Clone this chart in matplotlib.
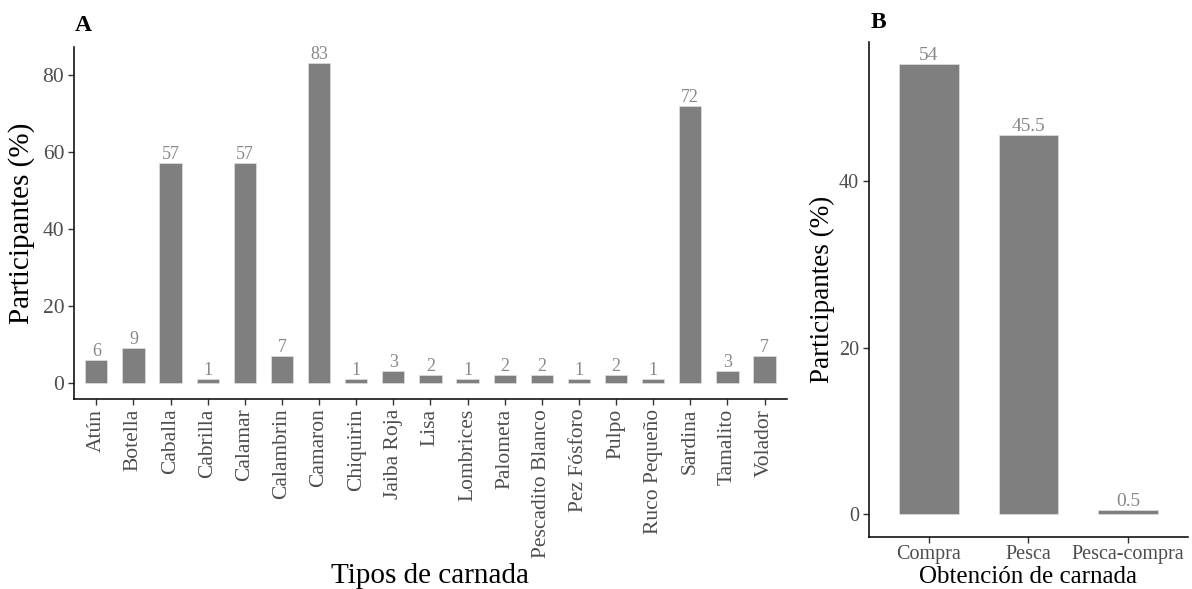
import matplotlib.pyplot as plt

plt.rcParams['font.family'] = ['Liberation Serif', 'DejaVu Serif']

# Panel A data
tipos = ['Atún', 'Botella', 'Caballa', 'Cabrilla', 'Calamar', 'Calambrin', 'Camaron',
         'Chiquirin', 'Jaiba Roja', 'Lisa', 'Lombrices', 'Palometa', 'Pescadito Blanco',
         'Pez Fósforo', 'Pulpo', 'Ruco Pequeño', 'Sardina', 'Tamalito', 'Volador']
tipos_pct = [6, 9, 57, 1, 57, 7, 83, 1, 3, 2, 1, 2, 2, 1, 2, 1, 72, 3, 7]

# Panel B data
obtencion = ['Compra', 'Pesca', 'Pesca-compra']
obtencion_pct = [54, 45.5, 0.5]

bar_col = '#7f7f7f'
lab_col = '#888888'
tick_col = '#4d4d4d'

fig = plt.figure(figsize=(11.92, 5.89), dpi=100)
axA = fig.add_axes([0.0621, 0.3226, 0.598, 0.5974])
axB = fig.add_axes([0.729, 0.0883, 0.2676, 0.8404])


def style(ax, size):
    for s in ['top', 'right']:
        ax.spines[s].set_visible(False)
    for s in ['left', 'bottom']:
        ax.spines[s].set_linewidth(1.1)
        ax.spines[s].set_color('black')
    ax.tick_params(axis='both', length=4, width=1, color='#333333',
                   labelcolor=tick_col, labelsize=size, pad=3)


# Panel A
xa = range(len(tipos))
axA.bar(xa, tipos_pct, width=0.6, color=bar_col, edgecolor='#e0e0e0', linewidth=0.5)
for x, v in zip(xa, tipos_pct):
    axA.text(x, v, str(v), ha='center', va='bottom', fontsize=13, color=lab_col)
axA.set_xlim(-0.6, len(tipos) - 0.4)
axA.set_ylim(-0.05 * 83, 83 * 1.05)
axA.set_yticks([0, 20, 40, 60, 80])
axA.set_xticks(list(xa))
axA.set_xticklabels(tipos, rotation=90, ha='center', va='top')
style(axA, 15.5)
axA.set_ylabel('Participantes (%)', fontsize=21, color='black', va='center')
axA.yaxis.set_label_coords(-0.073, 0.5)
axA.set_xlabel('Tipos de carnada', fontsize=21, color='black', va='baseline')
axA.xaxis.set_label_coords(0.5, -0.522)
fig.text(0.0625, 0.957, 'A', fontsize=17, fontweight='bold', va='center')

# Panel B
xb = range(len(obtencion))
axB.bar(xb, obtencion_pct, width=0.6, color=bar_col, edgecolor='#e0e0e0', linewidth=0.5)
for x, v in zip(xb, obtencion_pct):
    axB.text(x, v, f'{v:g}', ha='center', va='bottom', fontsize=14, color=lab_col)
axB.set_xlim(-0.6, len(obtencion) - 0.4)
axB.set_ylim(-0.05 * 54, 54 * 1.05)
axB.set_yticks([0, 20, 40])
axB.set_xticks(list(xb))
axB.set_xticklabels(obtencion)
style(axB, 14.5)
axB.tick_params(axis='x', pad=2)
axB.set_ylabel('Participantes (%)', fontsize=19.5, color='black', va='center')
axB.yaxis.set_label_coords(-0.147, 0.5)
axB.set_xlabel('Obtención de carnada', fontsize=18, color='black', va='baseline')
axB.xaxis.set_label_coords(0.5, -0.093)
fig.text(0.730, 0.962, 'B', fontsize=17, fontweight='bold', va='center')

fig.savefig('out.png', dpi=100)
